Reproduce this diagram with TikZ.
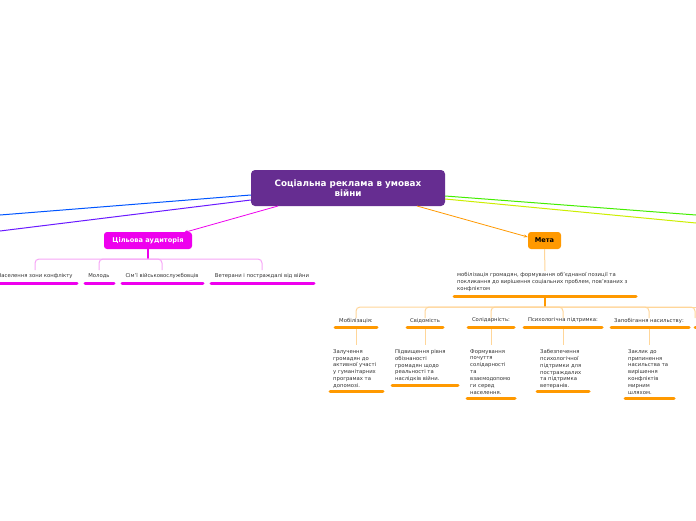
\documentclass[tikz,border=0pt]{standalone}
\usepackage{fontspec}
\setmainfont{DejaVu Sans}
\usetikzlibrary{arrows.meta}
\definecolor{cpurple}{HTML}{662D91}
\definecolor{cmag}{HTML}{EE00EE}
\definecolor{cmaglt}{HTML}{F7A6F7}
\definecolor{corange}{HTML}{FF9900}
\definecolor{corangelt}{HTML}{FFD699}
\definecolor{cblue}{HTML}{0055FF}
\definecolor{cviolet}{HTML}{6A1AFF}
\definecolor{cgreen}{HTML}{44EE00}
\definecolor{cyellow}{HTML}{CCEE00}
\definecolor{ctext}{HTML}{333333}
\tikzset{
  rootbox/.style={fill=cpurple,rounded corners=4pt,minimum width=194pt,minimum height=36pt,text=white,font=\fontsize{8.8}{10}\selectfont\bfseries,align=center,inner sep=0pt},
  subbox/.style={rounded corners=3pt,minimum height=17pt,inner sep=0pt,font=\fontsize{6.6}{7.5}\selectfont\bfseries},
  lbl/.style={text=ctext,font=\fontsize{5.3}{6}\selectfont,inner sep=0pt},
  desc/.style={text=ctext,font=\fontsize{5.3}{6.9}\selectfont,inner sep=0pt,align=left,anchor=north west},
  mline/.style={cmag,line width=3pt,line cap=round},
  oline/.style={corange,line width=3pt,line cap=round},
  mconn/.style={cmaglt,line width=1pt,rounded corners=4pt},
  oconn/.style={corangelt,line width=1pt,rounded corners=4pt},
}
\begin{document}
\begin{tikzpicture}[x=1pt,y=-1pt]
\useasboundingbox (0,0) rectangle (696,520);
\clip (0,0) rectangle (696,520);
\fill[white] (0,0) rectangle (696,520);

% root
\node[rootbox] (root) at (348,188) {Соціальна реклама в умовах\\війни};
\coordinate (bl) at (0,215);
\coordinate (vl) at (0,231);
\coordinate (gr) at (696,215);
\coordinate (yl) at (696,223);
\draw[cblue,line width=1pt] (root.west |- 0,195) -- (bl);
\draw[cviolet,line width=1pt] (root.west |- 0,200) -- (vl);
\draw[cgreen,line width=1pt] (root.east |- 0,196) -- (gr);
\draw[cyellow,line width=1pt] (root.east |- 0,199) -- (yl);

% target audience
\node[subbox,fill=cmag,text=white,minimum width=88pt] (aud) at (148,240.5) {Цільова аудиторія};
\coordinate (rA) at (278,206);
\draw[cmag,line width=0.8pt,-{Stealth[length=4pt,width=3pt]}] (rA) -- (184,232.5);

\coordinate (audb) at (148,259);
\draw[cmag,line width=1.2pt] (aud.south) -- (audb);
\foreach \x in {35,99,162,262} \draw[mconn] (\x,270) |- (audb);

\node[lbl] (a1) at (35,276) {Населення зони конфлікту};
\node[lbl] (a2) at (99,276) {Молодь};
\node[lbl] (a3) at (162,276) {Сім'ї військовослужбовців};
\node[lbl] (a4) at (262,276) {Ветерани і постраждалі від війни};
\draw[mline] (-5,283) -- (77,283);
\draw[mline] (85,283) -- (114,283);
\draw[mline] (122,283) -- (203,283);
\draw[mline] (211,283) -- (314,283);

% goal
\node[subbox,fill=corange,text=black,minimum width=33pt] (goal) at (544.5,240.5) {Мета};
\coordinate (rG) at (417,206);
\draw[corange,line width=0.8pt,-{Stealth[length=4pt,width=3pt]}] (rG) -- (goal.west |- 0,237);

\node[desc] (gd) at (457,272.5) {мобілізація громадян, формування об'єднаної позиції та\\покликання до вирішення соціальних проблем, пов'язаних з\\конфліктом};
\draw[corangelt,line width=1pt] (goal.south) -- (545,271);
\draw[oline] (454,296) -- (636,296);
\coordinate (gb) at (545,307);
\draw[corange,line width=1.2pt] (545,297) -- (gb);
\foreach \x in {356,425,491,563,649,695} \draw[oconn] (\x,318) |- (gb);
\draw[oconn] (645,307) -- (700,307);

\node[lbl] (m1) at (356,320.5) {Мобілізація:};
\node[lbl] (m2) at (425,320.5) {Свідомість};
\node[lbl] (m3) at (491,320.5) {Солідарність:};
\node[lbl] (m4) at (563,320.5) {Психологічна підтримка:};
\node[lbl] (m5) at (649,320.5) {Запобігання насильству:};
\draw[oline] (335,327) -- (377,327);
\draw[oline] (407,327) -- (443,327);
\draw[oline] (468,327) -- (514,327);
\draw[oline] (524,327) -- (602,327);
\draw[oline] (611,327) -- (689,327);
\draw[oline] (695,327) -- (700,327);

\foreach \x in {356,425,491,563,649} \draw[corangelt,line width=1pt] (\x,329) -- (\x,345);

\node[desc] (d1) at (333,349) {Залучення\\громадян до\\активної участі\\у гуманітарних\\програмах та\\допомозі.};
\node[desc] (d2) at (395,349) {Підвищення рівня\\обізнаності\\громадян щодо\\реальності та\\наслідків війни.};
\node[desc] (d3) at (470,349) {Формування\\почуття\\солідарності\\та\\взаємодопомо\\ги серед\\населення.};
\node[desc] (d4) at (540,349) {Забезпечення\\психологічної\\підтримки для\\постраждалих\\та підтримка\\ветеранів.};
\node[desc] (d5) at (628,349) {Заклик до\\припинення\\насильства та\\вирішення\\конфліктів\\мирним\\шляхом.};
\draw[oline] (330,391) -- (383,391);
\draw[oline] (392,385) -- (458,385);
\draw[oline] (467,398) -- (515,398);
\draw[oline] (537,391) -- (589,391);
\draw[oline] (625,398) -- (674,398);
\end{tikzpicture}
\end{document}
